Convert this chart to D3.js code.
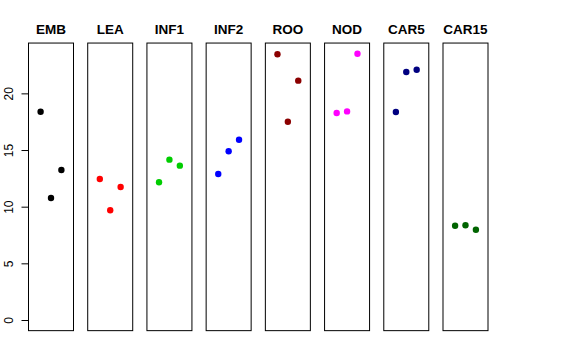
<!DOCTYPE html>
<html>
<head>
<meta charset="utf-8">
<script src="https://cdn.jsdelivr.net/npm/d3@7"></script>
<style>
  body { margin: 0; background: #fff; }
  svg { display: block; font-family: "Liberation Sans", Arial, sans-serif; }
</style>
</head>
<body>
<svg id="chart" width="576" height="360"></svg>
<script>
const tissues = ["EMB", "LEA", "INF1", "INF2", "ROO", "NOD", "CAR5", "CAR15"];
const colors = ["#000000", "#ff0000", "#00cd00", "#0000ff", "#8b0000", "#ff00ff", "#000080", "#006400"];
// three replicates per tissue, left to right
const EMB = [18.38, 10.77, 13.24];
const LEA = [12.44, 9.68, 11.74];
const INF1 = [12.15, 14.15, 13.62];
const INF2 = [12.89, 14.89, 15.91];
const ROO = [23.45, 17.50, 21.12];
const NOD = [18.27, 18.41, 23.50];
const CAR5 = [18.36, 21.89, 22.09];
const CAR15 = [8.32, 8.36, 7.97];
const yTicks = [0, 5, 10, 15, 20];

const values = [EMB, LEA, INF1, INF2, ROO, NOD, CAR5, CAR15];
const data = tissues.map((t, i) => ({ tissue: t, color: colors[i], vals: values[i] }));

const svg = d3.select("#chart");

const yMin = 0, yMax = 23.5;
const ext = (yMax - yMin) * 0.04;
const y = d3.scaleLinear().domain([yMin, yMax]).range([320, 53.7]);

const x = d3.scaleBand()
  .domain(tissues)
  .range([28.5, 488])
  .paddingInner(0.24);

const bw = x.bandwidth();
const xRep = d3.scalePoint().domain([0, 1, 2]).range([bw / 2 - 10.4, bw / 2 + 10.4]);

const panels = svg.selectAll("g.panel")
  .data(data)
  .enter()
  .append("g")
  .attr("class", "panel")
  .attr("transform", (d) => `translate(${x(d.tissue)},0)`);

panels.append("rect")
  .attr("x", 0)
  .attr("y", y(yMax + ext))
  .attr("width", bw)
  .attr("height", y(yMin - ext) - y(yMax + ext))
  .attr("fill", "none")
  .attr("stroke", "#000")
  .attr("stroke-width", 1);

panels.append("text")
  .attr("x", bw / 2)
  .attr("y", 33.7)
  .attr("text-anchor", "middle")
  .attr("font-weight", "bold")
  .attr("font-size", "13.5px")
  .text((d) => d.tissue);

panels.selectAll("circle")
  .data((d) => d.vals.map((v, j) => ({ v, j, color: d.color })))
  .enter()
  .append("circle")
  .attr("cx", (d) => xRep(d.j))
  .attr("cy", (d) => y(d.v))
  .attr("r", 3.2)
  .attr("fill", (d) => d.color);

const yAxis = d3.axisLeft(y).tickValues(yTicks).tickSize(7).tickPadding(4);
const ga = svg.append("g")
  .attr("transform", `translate(${x(tissues[0])},0)`)
  .call(yAxis);
ga.select(".domain").attr("d", `M0,${y(0)}V${y(20)}`).attr("stroke", "#000");
ga.selectAll(".tick line").attr("stroke", "#000");
ga.selectAll(".tick text")
  .attr("font-size", "12px")
  .attr("font-family", "Liberation Sans, Arial, sans-serif")
  .attr("fill", "#000")
  .attr("x", -19.5)
  .attr("y", 0)
  .attr("dy", "0.35em")
  .attr("text-anchor", "middle")
  .attr("transform", "rotate(-90, -19.5, 0)");
</script>
</body>
</html>
